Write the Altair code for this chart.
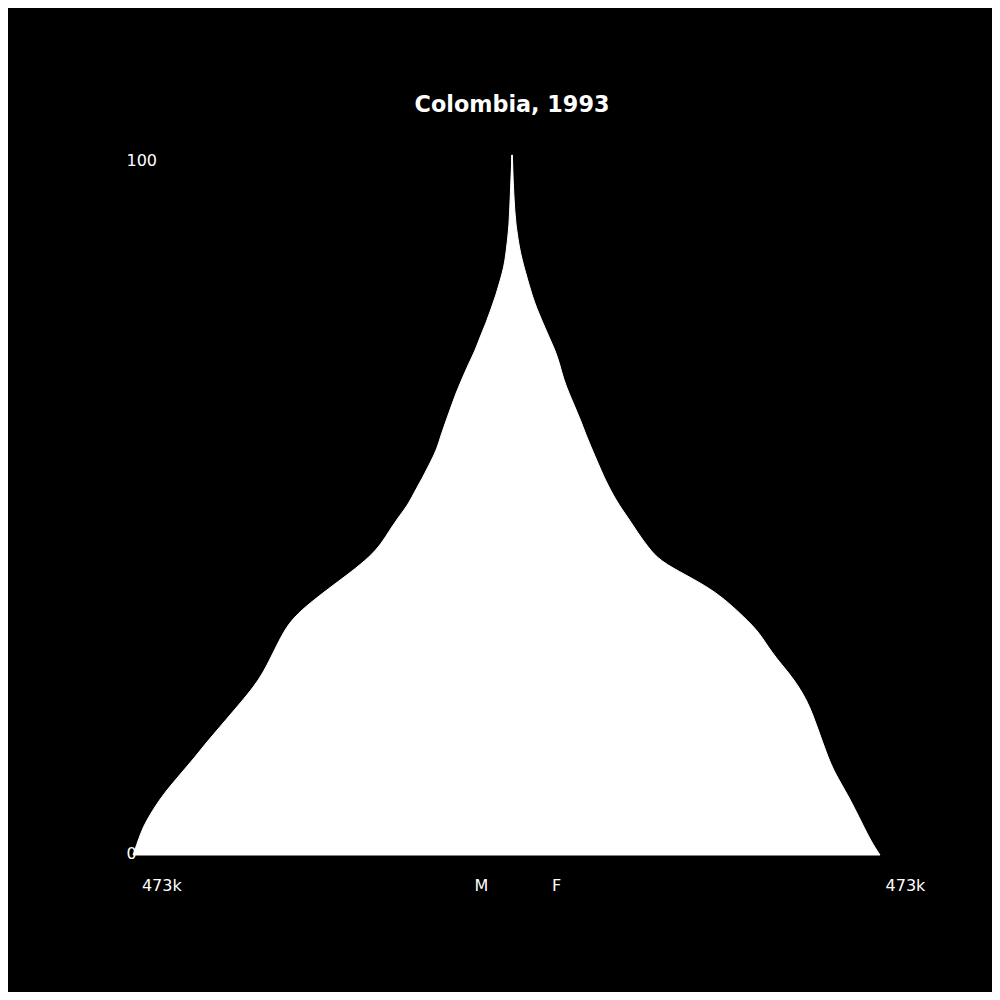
import altair as alt
import pandas as pd

# Colombia, 1993 population by age (thousands)
ages = list(range(0, 101, 2))
male_thousands = [473.0, 466.8, 460.5, 450.5, 439.3, 425.6, 410.6, 395.6, 381.9, 366.9,
                  351.9, 337.0, 322.6, 310.8, 302.0, 293.3, 284.5, 272.1, 252.1, 229.6,
                  205.9, 183.5, 166.0, 154.8, 143.5, 129.8, 121.1, 111.1, 102.3, 93.6,
                  88.6, 82.4, 76.1, 69.9, 62.4, 54.9, 46.2, 39.9, 32.4, 26.2,
                  20.0, 15.0, 10.0, 7.5, 5.4, 3.7, 2.9, 2.2, 1.5, 0.7, 0.2]
female_thousands = [459.3, 448.0, 439.3, 430.6, 421.8, 411.8, 401.9, 394.4, 388.1, 381.9,
                    375.6, 368.2, 358.2, 345.7, 330.7, 318.2, 307.0, 289.5, 270.8, 248.4,
                    217.2, 184.7, 169.7, 157.2, 146.0, 133.5, 123.6, 114.8, 107.3, 99.8,
                    92.4, 86.1, 78.6, 71.1, 64.3, 59.9, 54.3, 46.2, 38.7, 31.2,
                    25.0, 20.0, 15.0, 10.6, 7.5, 5.0, 3.5, 2.5, 1.6, 1.0, 0.5]

x_tick_values = [-437.7, -38.7, 54.9, 490.5]
x_tick_labels = ["473k", "M", "F", "473k"]
y_tick_values = [0, 100]

df = pd.DataFrame({
    "age": ages + ages,
    "sex": ["M"] * len(ages) + ["F"] * len(ages),
    "pop": [-v for v in male_thousands] + female_thousands,
})

label_expr = "[" + ",".join("'%s'" % s for s in x_tick_labels) + "][indexof([" + \
    ",".join(str(v) for v in x_tick_values) + "], datum.value)]"

FONT = "DejaVu Sans"

chart = alt.Chart(df).mark_area(
    orient="horizontal", interpolate="basis", color="white",
    stroke="white", strokeWidth=1
).encode(
    y=alt.Y("age:Q", scale=alt.Scale(domain=[0, 100], nice=False, zero=True),
            axis=alt.Axis(values=y_tick_values, title=None, domain=False, ticks=False,
                          grid=False, labelAlign="left", labelPadding=7,
                          labelBaseline={"condition": {"test": "datum.value == 100", "value": "top"},
                                         "value": "middle"},
                          labelOffset={"condition": {"test": "datum.value == 100", "value": -3},
                                       "value": -2},
                          labelColor="white", labelFontSize=16, labelFont=FONT)),
    x=alt.X("pop:Q", stack=None, scale=alt.Scale(domain=[-473, 500.5], nice=False),
            axis=alt.Axis(values=x_tick_values, labelExpr=label_expr, title=None,
                          domain=False, ticks=False, grid=False, labelPadding=22,
                          labelColor="white", labelFontSize=16, labelFont=FONT,
                          labelAlign="center", labelOverlap=False)),
    detail="sex:N",
).properties(
    width=780, height=700,
    title=alt.TitleParams("Colombia, 1993", color="white", fontSize=22.3, fontWeight="bold",
                          font=FONT, anchor="middle", frame="group", dx=-11,
                          baseline="alphabetic", offset=18),
    autosize=alt.AutoSizeParams(type="none"),
    padding={"left": 125, "top": 147, "right": 79, "bottom": 137},
).configure(background="black").configure_view(strokeWidth=0)

chart.save("out.html", embed_options={"renderer": "svg", "actions": False})
